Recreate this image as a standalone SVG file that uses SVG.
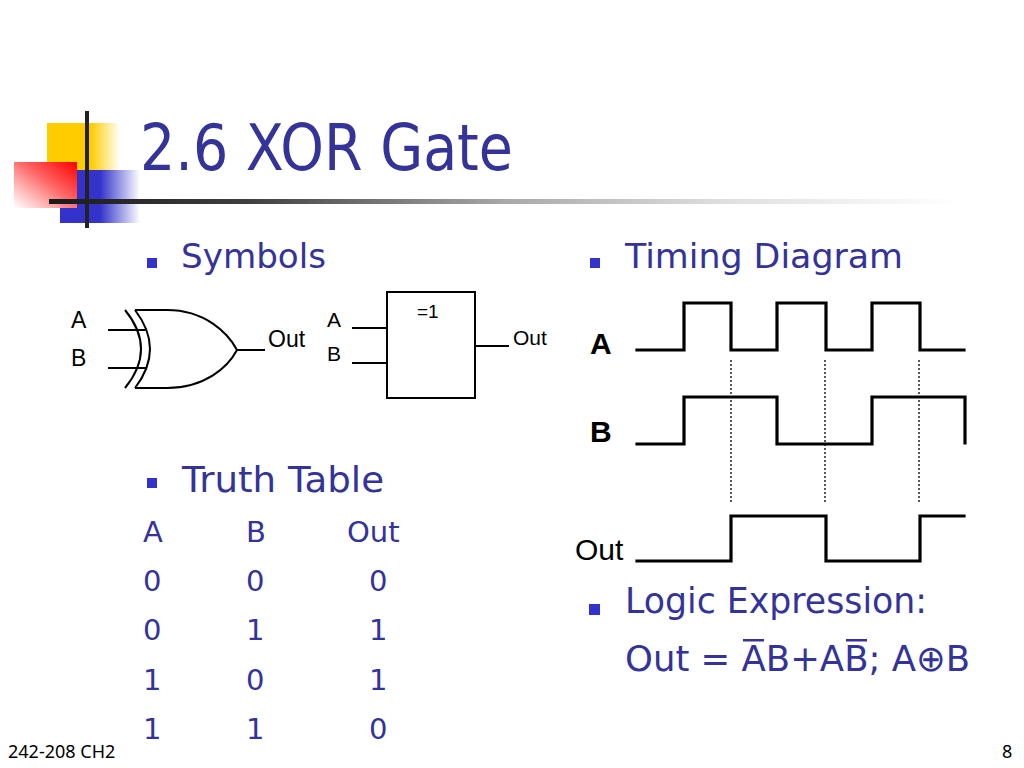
<svg xmlns="http://www.w3.org/2000/svg" width="1024" height="768" viewBox="0 0 1024 768">
<defs>
<style>
.body{font-family:"DejaVu Sans","Verdana",sans-serif;fill:#333399}
.ar{font-family:"Liberation Sans",Arial,sans-serif;fill:#000}
.bul{fill:#3333CC}
.ln{stroke:#000;stroke-width:2;fill:none}
.sig{stroke:#000;stroke-width:3.2;fill:none;stroke-linejoin:miter;stroke-linecap:square}
.dot{stroke:#000;stroke-width:1.3;stroke-dasharray:2 2;fill:none}
.foot{font-family:"Noto Sans","DejaVu Sans",sans-serif;font-size:18px;fill:#000}
</style>
<linearGradient id="gy" x1="0" y1="0" x2="1" y2="0">
<stop offset="0" stop-color="#FFCC00"/><stop offset="0.6" stop-color="#FFCC00"/><stop offset="1" stop-color="#FFCC00" stop-opacity="0"/>
</linearGradient>
<linearGradient id="gb" x1="0" y1="0" x2="1" y2="0">
<stop offset="0" stop-color="#3333CC"/><stop offset="0.5" stop-color="#3333CC"/><stop offset="1" stop-color="#3333CC" stop-opacity="0"/>
</linearGradient>
<linearGradient id="gr" x1="1" y1="0" x2="0" y2="1">
<stop offset="0" stop-color="#FF0000"/><stop offset="0.45" stop-color="#FF6666"/><stop offset="1" stop-color="#FFFFFF" stop-opacity="0.9"/>
</linearGradient>
<linearGradient id="gl" x1="49" y1="0" x2="960" y2="0" gradientUnits="userSpaceOnUse">
<stop offset="0" stop-color="#1a1a1a"/><stop offset="0.22" stop-color="#404040"/><stop offset="0.5" stop-color="#a8a8a8"/><stop offset="0.75" stop-color="#e0e0e0"/><stop offset="1" stop-color="#ffffff"/>
</linearGradient>
</defs>
<rect width="1024" height="768" fill="#fff"/>
<g id="logo">
<rect x="47" y="123" width="73" height="48" fill="url(#gy)"/>
<rect x="60" y="170" width="80" height="53" fill="url(#gb)"/>
<rect x="14" y="162" width="63" height="46" fill="url(#gr)"/>
<rect x="49" y="199" width="911" height="5" fill="url(#gl)"/>
<rect x="85" y="111" width="4" height="117" fill="#222"/>
</g>
<text id="title" x="140" y="170" class="body" font-size="64" textLength="373" lengthAdjust="spacingAndGlyphs">2.6 XOR Gate</text>
<g id="bullets">
<rect class="bul" x="147" y="258" width="10" height="10"/>
<text x="181" y="268" class="body" font-size="34" textLength="145" lengthAdjust="spacingAndGlyphs">Symbols</text>
<rect class="bul" x="590" y="258" width="10" height="10"/>
<text x="625" y="268" class="body" font-size="34" textLength="278" lengthAdjust="spacingAndGlyphs">Timing Diagram</text>
<rect class="bul" x="147" y="478" width="10" height="10"/>
<text x="182" y="492" class="body" font-size="35" textLength="202" lengthAdjust="spacingAndGlyphs">Truth Table</text>
<rect class="bul" x="589" y="604" width="11" height="11"/>
<text x="625" y="613" class="body" font-size="35" textLength="302" lengthAdjust="spacingAndGlyphs">Logic Expression:</text>
</g>
<g id="expression">
<text x="625" y="671" class="body" font-size="36" textLength="345" lengthAdjust="spacingAndGlyphs">Out = AB+AB; A⊕B</text>
<rect x="743" y="639" width="21" height="2.5" fill="#333399"/>
<rect x="846" y="639" width="21" height="2.5" fill="#333399"/>
</g>
<g id="truth-table" class="body" font-size="29">
<text x="143" y="542">A</text><text x="246" y="542">B</text><text x="347" y="542">Out</text>
<text x="143" y="591">0</text><text x="246" y="591">0</text><text x="369" y="591">0</text>
<text x="143" y="640">0</text><text x="246" y="640">1</text><text x="369" y="640">1</text>
<text x="143" y="690">1</text><text x="246" y="690">0</text><text x="369" y="690">1</text>
<text x="143" y="739">1</text><text x="246" y="739">1</text><text x="369" y="739">0</text>
</g>
<g id="xor-gate">
<path class="ln" d="M125,310 Q157,349 125,388"/>
<path class="ln" d="M135,310 Q165,349 135,388"/>
<path class="ln" d="M135,310 L167,310 C205,310 228,333 237,350 C228,367 205,388 167,388 L135,388"/>
<path class="ln" d="M108,330 L146,330 M108,368 L146,368 M237,350 L265,350"/>
<text class="ar" x="71" y="328" font-size="23">A</text>
<text class="ar" x="71" y="366" font-size="23">B</text>
<text class="ar" x="268" y="347" font-size="23">Out</text>
</g>
<g id="iec-gate">
<rect class="ln" x="387" y="292" width="88" height="106"/>
<path class="ln" d="M352,328 L387,328 M352,363 L387,363 M475,346 L509,346"/>
<text class="ar" x="417" y="318" font-size="19">=1</text>
<text class="ar" x="327" y="327" font-size="21">A</text>
<text class="ar" x="327" y="361" font-size="21">B</text>
<text class="ar" x="513" y="345" font-size="21">Out</text>
</g>
<g id="timing">
<text class="ar" x="590" y="354" font-size="30" font-weight="bold">A</text>
<text class="ar" x="590" y="442" font-size="30" font-weight="bold">B</text>
<text class="ar" x="575" y="560" font-size="30">Out</text>
<path class="sig" d="M637,350 L684,350 L684,303 L731,303 L731,350 L777,350 L777,303 L826,303 L826,350 L872,350 L872,303 L920,303 L920,350 L964,350"/>
<path class="sig" d="M637,444 L684,444 L684,397 L777,397 L777,444 L872,444 L872,397 L965,397 L965,443"/>
<path class="sig" d="M637,561 L731,561 L731,516 L826,516 L826,561 L920,561 L920,516 L964,516"/>
<path class="dot" d="M731,360 L731,503 M825,360 L825,503 M919,360 L919,503"/>
</g>
<g id="footer">
<text class="foot" x="8" y="758">242-208 CH2</text>
<text class="foot" x="1002" y="758">8</text>
</g>
</svg>
